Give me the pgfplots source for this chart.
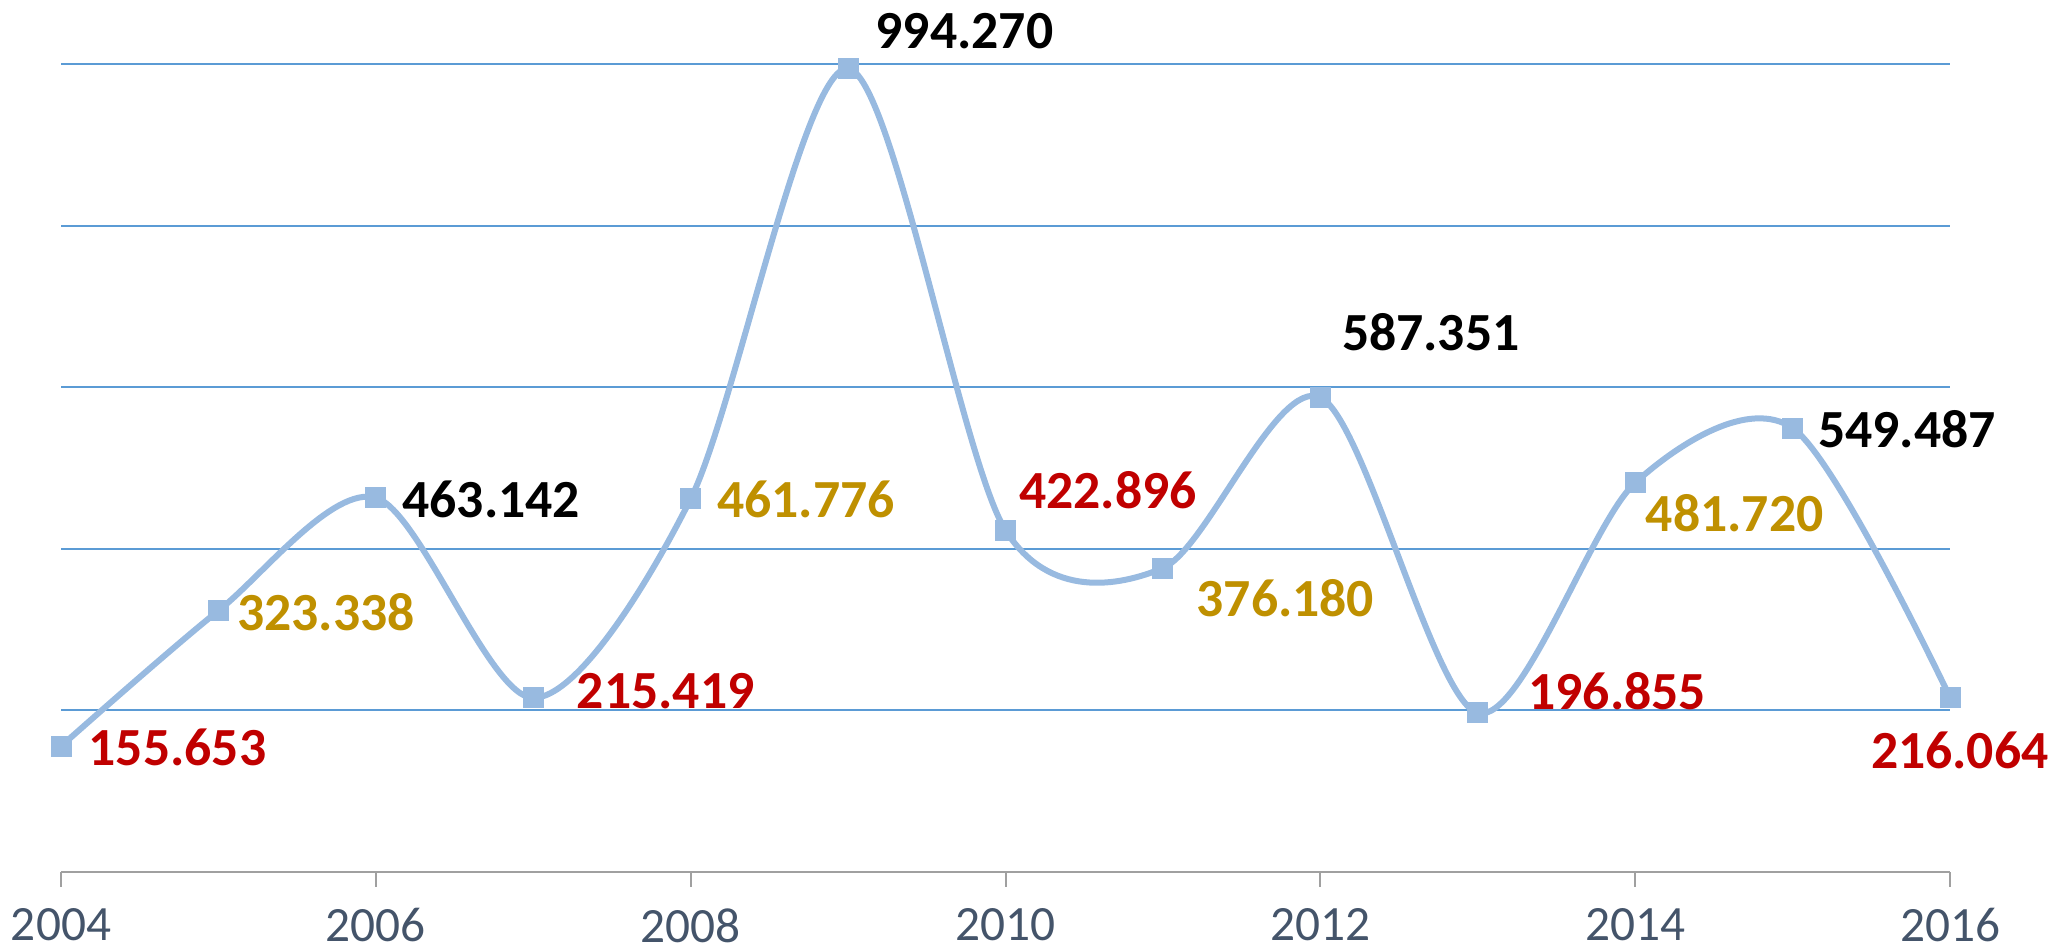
\documentclass[border=0pt]{standalone}
\usepackage{pgfplots}
\pgfplotsset{compat=1.18}
\usepackage{pgfplotstable}
\usepackage{fontspec}
\setmainfont{Carlito}
\definecolor{lred}{HTML}{C00000}
\definecolor{lgold}{HTML}{BF9000}
\definecolor{lblack}{HTML}{000000}
\definecolor{linec}{HTML}{98BAE0}
\definecolor{markc}{HTML}{98BAE0}
\definecolor{gridc}{HTML}{5B9BD5}
\definecolor{tickc}{HTML}{44546A}
\definecolor{axisc}{HTML}{A0A0A0}

\pgfplotstableread{
x    y
2004 155.653
2005 323.338
2006 463.142
2007 215.419
2008 461.776
2009 994.270
2010 422.896
2011 376.180
2012 587.351
2013 196.855
2014 481.720
2015 549.487
2016 216.064
}\datatable

\pgfplotstableread{
x    y        lab      dx     dy
2004 155.653  155.653  8.1    -0.45
2007 215.419  215.419  12.9   1.95
2010 422.896  422.896  3.9    12.15
2013 196.855  196.855  15.0   6.45
2016 216.064  216.064  -23.9  -15.9
}\redlabels

\pgfplotstableread{
x    y        lab      dx     dy
2005 323.338  323.338  5.4    -0.3
2008 461.776  461.776  7.8    -0.3
2011 376.180  376.180  9.9    -9.0
2014 481.720  481.720  3.0    -9.0
}\goldlabels

\pgfplotstableread{
x    y        lab      dx     dy
2006 463.142  463.142  7.8    -0.6
2009 994.270  994.270  8.1    11.4
2012 587.351  587.351  6.3    19.65
2015 549.487  549.487  7.5    -0.45
}\blacklabels

\pgfplotsset{
  labelplot/.style={
    draw=none, mark=none, forget plot,
    point meta=explicit symbolic,
    visualization depends on={\thisrow{dx}\as\ldx},
    visualization depends on={\thisrow{dy}\as\ldy},
    nodes near coords,
    nodes near coords style={anchor=west, xshift=\ldx pt, yshift=\ldy pt, text=#1,
       font=\fontsize{16.1}{18}\selectfont\bfseries, inner sep=0pt},
  },
}

\begin{document}
\begin{tikzpicture}
\begin{axis}[
  name=ax,
  scale only axis,
  width=566.7pt, height=242.4pt,
  xmin=2004, xmax=2016, ymin=0, ymax=1000,
  clip=false,
  axis lines*=left,
  y axis line style={draw=none},
  x axis line style={draw=axisc, line width=0.6pt},
  xtick={2004,2006,2008,2010,2012,2014,2016},
  xticklabels={2004,2006,2008,2010,2012,2014,2016},
  ytick={200,400,600,800,1000},
  yticklabels={},
  ymajorgrids,
  grid style={draw=gridc, line width=0.6pt},
  ytick style={draw=none},
  xtick style={draw=axisc, line width=0.6pt},
  tick align=outside,
  major tick length=4.5pt,
  xticklabel style={font=\fontsize{14.8}{16}\selectfont, text=tickc, inner sep=0pt, anchor=north, yshift=-6.3pt},
  /pgf/number format/assume math mode=true,
]
\addplot[
  color=linec, line width=1.8pt, smooth,
  mark=square*, mark size=3pt,
  mark options={fill=markc, draw=markc, line width=0pt},
] table[x=x, y=y] {\datatable};
\addplot[labelplot=lred] table[x=x, y=y, meta=lab] {\redlabels};
\addplot[labelplot=lgold] table[x=x, y=y, meta=lab] {\goldlabels};
\addplot[labelplot=lblack] table[x=x, y=y, meta=lab] {\blacklabels};
\end{axis}
\pgfresetboundingbox
\path[use as bounding box] ([xshift=-18.3pt,yshift=-23.7pt]ax.south west) rectangle ([xshift=29.4pt,yshift=19.2pt]ax.north east);
\end{tikzpicture}
\end{document}
